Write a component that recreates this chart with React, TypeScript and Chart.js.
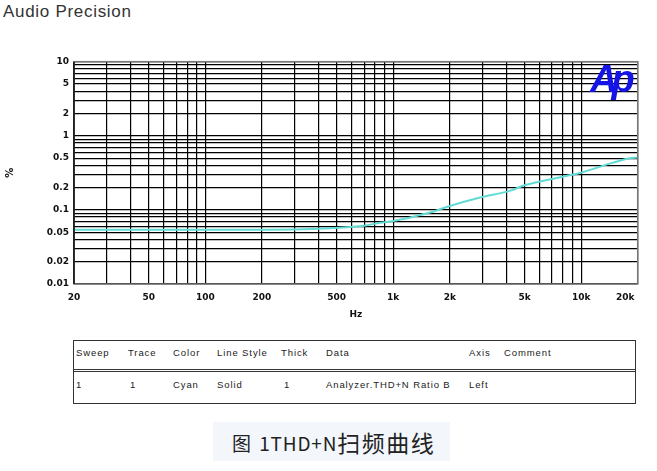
import React, { useEffect, useRef } from "react";
import { Chart, registerables } from "chart.js";

Chart.register(...registerables);

// THD+N vs frequency sweep (Hz, %)
const freqHz = [20, 50, 100, 200, 300, 400, 460, 700, 850, 1000, 1280, 1570, 2000, 2900, 4200, 5000, 8000, 10000, 14800, 18100, 20000];
const thdPct = [0.054, 0.054, 0.054, 0.054, 0.0545, 0.0555, 0.0565, 0.061, 0.067, 0.071, 0.081, 0.092, 0.113, 0.147, 0.182, 0.215, 0.281, 0.318, 0.434, 0.497, 0.51];

// Grid lines of the log-log plot
const xGrid = [20, 30, 40, 50, 60, 70, 80, 90, 100, 200, 300, 400, 500, 600, 700, 800, 900, 1000, 2000, 3000, 4000, 5000, 6000, 7000, 8000, 9000, 10000, 20000];
const yGrid = [0.01, 0.02, 0.03, 0.04, 0.05, 0.06, 0.07, 0.08, 0.09, 0.1, 0.2, 0.3, 0.4, 0.5, 0.6, 0.7, 0.8, 0.9, 1, 2, 3, 4, 5, 6, 7, 8, 9, 10];

// Labelled ticks
const xMajor = [20, 50, 100, 200, 500, 1000, 2000, 5000, 10000, 20000];
const xLabels = ["20", "50", "100", "200", "500", "1k", "2k", "5k", "10k", "20k\u00a0\u00a0\u00a0\u00a0\u00a0\u00a0\u00a0\u00a0"];
const yMajor = [0.01, 0.02, 0.05, 0.1, 0.2, 0.5, 1, 2, 5, 10];
const yLabels = ["0.01", "0.02", "0.05", "0.1", "0.2", "0.5", "1", "2", "5", "10"];

// Sweep legend table
const tableHeader = ["Sweep", "Trace", "Color", "Line Style", "Thick", "Data", "Axis", "Comment"];
const tableRow = ["1", "1", "Cyan", "Solid", "1", "Analyzer.THD+N Ratio B", "Left", ""];
const columnLeft = [2, 54, 99, 143, 207, 252, 395, 430];

const labelFor = (majors: number[], labels: string[], v: number) => {
  const i = majors.findIndex((m) => Math.abs(v / m - 1) < 1e-6);
  return i >= 0 ? labels[i] : "";
};

const tickFont = { family: "'DejaVu Sans', sans-serif", size: 9, weight: "bold" as const };

const apLogo = {
  id: "apLogo",
  afterDraw(chart: any) {
    const { ctx, chartArea } = chart;
    ctx.save();
    // plot frame
    ctx.strokeStyle = "#777";
    ctx.lineWidth = 1.5;
    ctx.strokeRect(chartArea.left, chartArea.top, chartArea.right - chartArea.left, chartArea.bottom - chartArea.top);
    ctx.strokeStyle = "#000";
    ctx.lineWidth = 1.3;
    ctx.beginPath();
    ctx.moveTo(chartArea.left, chartArea.top);
    ctx.lineTo(chartArea.left, chartArea.bottom);
    ctx.stroke();
    // Ap mark
    ctx.font = "italic bold 38px 'Liberation Sans', Arial, sans-serif";
    ctx.fillStyle = "#1414e6";
    ctx.textBaseline = "alphabetic";
    (ctx as any).letterSpacing = "-6px";
    ctx.fillText("Ap", 590, 92);
    ctx.restore();
  },
};

function ThdChart() {
  const ref = useRef<HTMLCanvasElement>(null);
  useEffect(() => {
    if (!ref.current) return;
    const chart = new Chart(ref.current, {
      type: "line",
      data: {
        datasets: [
          {
            data: freqHz.map((f, i) => ({ x: f, y: thdPct[i] })),
            borderColor: "#62dbd4",
            borderWidth: 2,
            pointRadius: 0,
            cubicInterpolationMode: "monotone",
          },
        ],
      },
      options: {
        animation: false,
        responsive: false,
        maintainAspectRatio: false,
        layout: { padding: { left: 0, right: 19.3, top: 61.7, bottom: 0 } },
        plugins: { legend: { display: false }, tooltip: { enabled: false } },
        scales: {
          x: {
            type: "logarithmic",
            min: 20,
            max: 20000,
            z: 1,
            afterBuildTicks: (s: any) => {
              s.ticks = xGrid.map((v) => ({ value: v }));
            },
            afterFit: (s: any) => {
              s.height = 46;
              s.paddingLeft = 0;
              s.paddingRight = 0;
            },
            grid: { color: "#000", lineWidth: 1.2, drawTicks: false },
            border: { display: false },
            ticks: {
              autoSkip: false,
              maxRotation: 0,
              minRotation: 0,
              padding: 8,
              color: "#111",
              font: tickFont,
              callback: (v: any) => labelFor(xMajor, xLabels, Number(v)),
            },
            title: { display: true, text: "Hz", color: "#111", font: tickFont, padding: { top: 0, bottom: 10 } },
          },
          y: {
            type: "logarithmic",
            min: 0.01,
            max: 10,
            z: 1,
            afterBuildTicks: (s: any) => {
              s.ticks = yGrid.map((v) => ({ value: v }));
            },
            afterFit: (s: any) => {
              s.width = 74;
              s.paddingTop = 0;
              s.paddingBottom = 0;
            },
            grid: { color: "#000", lineWidth: 1.2, drawTicks: false },
            border: { display: false },
            ticks: {
              autoSkip: false,
              padding: 5,
              color: "#111",
              font: tickFont,
              callback: (v: any) => labelFor(yMajor, yLabels, Number(v)),
            },
            title: { display: true, text: "%", color: "#111", font: { ...tickFont, size: 10 }, padding: { top: 4, bottom: 0 } },
          },
        },
      },
      plugins: [apLogo],
    } as any);
    return () => chart.destroy();
  }, []);
  return (
    <canvas
      ref={ref}
      width={657}
      height={330}
      style={{ position: "absolute", left: 0, top: 0, width: 657, height: 330 }}
    />
  );
}

const cellText: React.CSSProperties = {
  position: "absolute",
  fontFamily: "'Liberation Sans', Arial, sans-serif",
  fontSize: 9.5,
  letterSpacing: "0.9px",
  color: "#222",
  whiteSpace: "nowrap",
};

const captionFont: React.CSSProperties = {
  fontFamily: "'Noto Sans CJK SC', 'Noto Sans', sans-serif",
  fontSize: 19,
  color: "#222",
};

export default function App() {
  return (
    <div style={{ position: "fixed", left: 0, top: 0, width: 657, height: 471, background: "#fff", overflow: "hidden" }}>
      <div
        style={{
          position: "absolute",
          left: 3,
          top: 2,
          fontFamily: "'Liberation Sans', Arial, sans-serif",
          fontSize: 17,
          letterSpacing: "0.7px",
          color: "#333",
          whiteSpace: "nowrap",
        }}
      >
        Audio Precision
      </div>
      <ThdChart />
      <div
        style={{
          position: "absolute",
          left: 73,
          top: 340,
          width: 563,
          height: 64,
          border: "1.5px solid #333",
          boxSizing: "border-box",
        }}
      >
        <div style={{ position: "absolute", left: 0, right: 0, top: 28, borderTop: "3px double #333" }} />
        {tableHeader.map((t, i) => (
          <div key={"h" + i} style={{ ...cellText, left: columnLeft[i], top: 6 }}>
            {t}
          </div>
        ))}
        {tableRow.map((t, i) => (
          <div key={"r" + i} style={{ ...cellText, left: columnLeft[i] + (i === 1 ? 2 : i === 4 ? 3 : 0), top: 38 }}>
            {t}
          </div>
        ))}
      </div>
      <div
        style={{
          position: "absolute",
          left: 213,
          top: 422,
          width: 237,
          height: 39,
          background: "#f3f7fc",
        }}
      >
        <div
          style={{
            position: "absolute",
            left: 19,
            top: 8,
            whiteSpace: "nowrap",
            lineHeight: "24px",
            ...captionFont,
          }}
        >
          <span style={{ letterSpacing: "2px" }}>图 </span>
          <span style={{ letterSpacing: "0.8px" }}>1THD+N</span>
          <span style={{ fontSize: 23, letterSpacing: "1.5px", verticalAlign: "-1px" }}>扫频曲线</span>
        </div>
      </div>
    </div>
  );
}
